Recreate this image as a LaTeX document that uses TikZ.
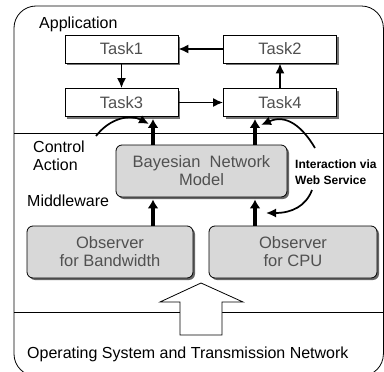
\documentclass[tikz,border=0pt]{standalone}
\usepackage{fontspec}
\setmainfont{Liberation Sans}
\usetikzlibrary{arrows.meta, positioning, calc, shadows}
\definecolor{boxgray}{RGB}{216,216,216}
\definecolor{textgray}{RGB}{80,80,80}

\begin{document}
\begin{tikzpicture}[x=1pt, y=-1pt,
    taskbox/.style={draw, fill=white, line width=0.8pt, minimum width=113pt, minimum height=28pt,
        inner sep=0pt, font=\fontsize{16.5}{18}\selectfont, text=textgray,
        drop shadow={shadow xshift=2pt, shadow yshift=-2pt, fill=black!55, opacity=1}},
    modbox/.style={draw, fill=boxgray, line width=0.8pt, rounded corners=6pt, inner sep=0pt,
        align=center, font=\fontsize{16.5}{18}\selectfont, text=textgray,
        drop shadow={shadow xshift=2pt, shadow yshift=-2pt, fill=black!60, opacity=1}},
    lbl/.style={inner sep=0pt, font=\fontsize{16}{18}\selectfont},
    thinarr/.style={line width=1.7pt, -{Latex[length=10pt, width=9pt]}},
    thickarr/.style={line width=3.6pt, -{Latex[length=9pt, width=11pt]}}]
    \useasboundingbox (0,0) rectangle (384,372);

    % Layers
    \draw[line width=0.8pt, rounded corners=22pt] (14,6) rectangle (383.4,376);
    \draw[line width=0.8pt] (14,133) -- (383.4,133);
    \draw[line width=0.8pt] (14,312) -- (383.4,312);

    % Layer labels
    \node[lbl, anchor=base west] (app) at (39,29) {Application};
    \node[lbl, anchor=west, align=left] (ctrl) at (33,156) {Control\\Action};
    \node[lbl, anchor=base west] (mid) at (27,206) {Middleware};
    \node[lbl, anchor=base west] (os) at (27,358) {Operating System and Transmission Network};
    \node[lbl, anchor=west, align=left, font=\fontsize{12}{16}\bfseries\selectfont] (ws) at (295,172) {Interaction via\\Web Service};

    % Tasks
    \node[taskbox] (task1) at (121.5,49) {Task1};
    \node[taskbox] (task2) at (280,49) {Task2};
    \node[taskbox] (task3) at (121.5,102.5) {Task3};
    \node[taskbox] (task4) at (280,102.5) {Task4};

    \draw[thinarr] (task2) -- (task1);
    \draw[thinarr] (task1) -- (task3);
    \draw[thinarr] (task3) -- (task4);
    \draw[thinarr] (task4) -- (task2);

    % Middleware
    \node[modbox, minimum width=171pt, minimum height=52pt] (bn) at (201.5,171) {Bayesian\ \ Network\\Model};
    \node[modbox, minimum width=166pt, minimum height=52pt] (obsbw) at (110,252) {Observer\\for Bandwidth};
    \node[modbox, minimum width=168pt, minimum height=52pt] (obscpu) at (293,252) {Observer\\for CPU};

    \coordinate (xl) at (153,0);
    \coordinate (xr) at (255,0);
    \draw[thickarr] (xl |- bn.north) -- ([yshift=-2pt]xl |- task3.south);
    \draw[thickarr] (xr |- bn.north) -- ([yshift=-2pt]xr |- task4.south);
    \draw[thickarr] (xl |- obsbw.north) -- ([yshift=-2pt]xl |- bn.south);
    \draw[thickarr] (xr |- obscpu.north) -- ([yshift=-2pt]xr |- bn.south);

    % Control action and web service
    \coordinate (ca1) at (96,136);
    \coordinate (ca2) at (149,124);
    \coordinate (ws1) at (315,148);
    \coordinate (ws2) at (261,125);
    \coordinate (ws3) at (312,190);
    \coordinate (ws4) at (266,213);
    \draw[thinarr] (ca1) .. controls (110,118) and (130,114) .. (ca2);
    \draw[thinarr] (ws1) .. controls (302,126) and (286,114) .. (ws2);
    \draw[thinarr] (ws3) .. controls (306,206) and (292,213) .. (ws4);

    % OS input
    \draw[line width=0.8pt, fill=white] (180,335) -- (180,302) -- (160,302) -- (201,283)
        -- (243,302) -- (222,302) -- (222,335) -- cycle;
\end{tikzpicture}
\end{document}
